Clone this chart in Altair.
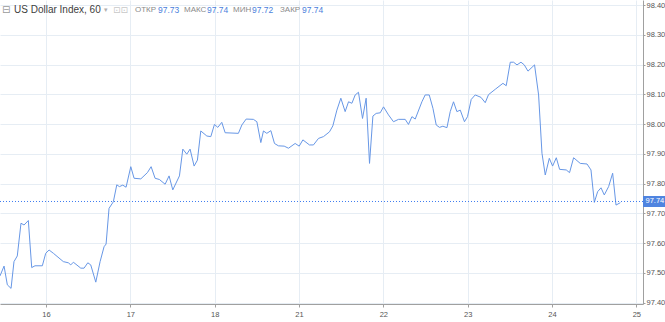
import altair as alt
import pandas as pd

# trading-day index (16 -> 0, 17 -> 1, 18 -> 2, 21 -> 3, 22 -> 4, 23 -> 5, 24 -> 6, 25 -> 7)
t = [-0.546, -0.498, -0.459, -0.415, -0.380, -0.341, -0.297, -0.261, -0.210, -0.170,
     -0.131, -0.044, -0.004, 0.036, 0.087, 0.205, 0.265, 0.293, 0.324, 0.412,
     0.451, 0.495, 0.530, 0.590, 0.641, 0.688, 0.712, 0.747, 0.798, 0.839,
     0.870, 0.910, 0.949, 1.005, 1.044, 1.124, 1.202, 1.246, 1.293, 1.344,
     1.412, 1.459, 1.503, 1.582, 1.622, 1.669, 1.708, 1.756, 1.795, 1.835,
     1.907, 1.954, 1.997, 2.037, 2.084, 2.124, 2.281, 2.322, 2.373, 2.459,
     2.500, 2.547, 2.578, 2.618, 2.666, 2.709, 2.756, 2.824, 2.875, 2.954,
     3.002, 3.046, 3.124, 3.171, 3.231, 3.290, 3.361, 3.401, 3.449, 3.496,
     3.547, 3.587, 3.627, 3.666, 3.705, 3.753, 3.796, 3.836, 3.876, 3.915,
     3.963, 4.002, 4.061, 4.120, 4.180, 4.259, 4.298, 4.339, 4.378, 4.457,
     4.496, 4.544, 4.588, 4.627, 4.666, 4.706, 4.754, 4.793, 4.832, 4.872,
     4.912, 4.962, 4.998, 5.042, 5.089, 5.157, 5.208, 5.247, 5.327, 5.418,
     5.457, 5.505, 5.544, 5.585, 5.632, 5.671, 5.715, 5.793, 5.841, 5.881,
     5.920, 5.968, 6.007, 6.051, 6.090, 6.169, 6.208, 6.256, 6.335, 6.415,
     6.462, 6.502, 6.541, 6.581, 6.620, 6.671, 6.719, 6.759, 6.810]

price = [97.490, 97.523, 97.460, 97.448, 97.538, 97.557, 97.667, 97.661, 97.676, 97.518,
         97.524, 97.524, 97.566, 97.577, 97.566, 97.538, 97.534, 97.527, 97.536, 97.516,
         97.516, 97.534, 97.527, 97.469, 97.538, 97.588, 97.597, 97.717, 97.739, 97.796,
         97.790, 97.795, 97.788, 97.857, 97.818, 97.816, 97.837, 97.857, 97.818, 97.814,
         97.798, 97.826, 97.779, 97.826, 97.916, 97.899, 97.916, 97.859, 97.879, 97.977,
         97.960, 97.958, 97.999, 97.989, 98.006, 97.971, 97.969, 97.997, 98.017, 98.016,
         98.008, 97.938, 97.977, 97.969, 97.978, 97.935, 97.927, 97.926, 97.919, 97.935,
         97.926, 97.947, 97.930, 97.930, 97.952, 97.958, 97.974, 97.994, 98.047, 98.087,
         98.042, 98.075, 98.070, 98.098, 98.107, 98.019, 98.087, 97.868, 98.027, 98.036,
         98.038, 98.058, 98.031, 98.008, 98.016, 98.016, 97.999, 98.025, 98.017, 98.075,
         98.098, 98.098, 98.053, 97.997, 97.989, 97.993, 97.988, 98.042, 98.075, 98.042,
         98.047, 98.008, 98.025, 98.083, 98.098, 98.090, 98.072, 98.099, 98.117, 98.137,
         98.129, 98.208, 98.208, 98.199, 98.208, 98.199, 98.178, 98.199, 98.098, 97.902,
         97.829, 97.885, 97.859, 97.887, 97.848, 97.846, 97.837, 97.887, 97.868, 97.866,
         97.846, 97.737, 97.773, 97.786, 97.762, 97.790, 97.835, 97.728, 97.736]

day_labels = ["16", "17", "18", "21", "22", "23", "24", "25"]
y_ticks = [97.40, 97.50, 97.60, 97.70, 97.80, 97.90, 98.00, 98.10, 98.20, 98.30, 98.40]
last_price = 97.74
last_label = "97.74"

title_text = "US Dollar Index, 60"
ohlc_labels = ["ОТКР", "МАКС", "МИН", "ЗАКР"]
ohlc_values = ["97.73", "97.74", "97.72", "97.74"]

LINE = "#6797e6"
TAG = "#4f84e0"
DOT = "#3f7df0"
GRID = "#e6edf4"
FONT = "Liberation Sans"

df = pd.DataFrame({"t": t, "price": price})

xscale = alt.Scale(domain=[-0.546, 7.079], nice=False, zero=False)
yscale = alt.Scale(domain=[97.3956, 98.417], nice=False, zero=False)

label_expr = "[" + ",".join("'%s'" % d for d in day_labels) + "][datum.value]"

x_axis = alt.Axis(values=list(range(len(day_labels))), labelExpr=label_expr,
                  grid=True, gridColor=GRID, domainColor="#a0a0a0",
                  tickColor="#a0a0a0", tickSize=3, labelFontSize=7.5,
                  labelColor="#555", labelFont=FONT, labelPadding=3,
                  labelOverlap=False)
y_axis = alt.Axis(orient="right", values=y_ticks, format=".2f",
                  grid=True, gridColor=GRID, domainColor="#a0a0a0",
                  tickColor="#a0a0a0", tickSize=2, labelFontSize=7.5,
                  labelColor="#555", labelFont=FONT, labelPadding=1,
                  labelAlign="left", labelOverlap=False, labelBound=False)

line = alt.Chart(df).mark_line(color=LINE, strokeWidth=1).encode(
    x=alt.X("t:Q", scale=xscale, title=None, axis=x_axis),
    y=alt.Y("price:Q", scale=yscale, title=None, axis=y_axis),
)

price_line = alt.Chart(pd.DataFrame({"price": [last_price]})).mark_rule(
    stroke=DOT, color=DOT, strokeWidth=1, strokeDash=[1, 2], strokeCap="butt", opacity=1
).encode(y=alt.Y("price:Q", scale=yscale, title=None, axis=y_axis),
         x=alt.value(0), x2=alt.value(643))

tag_df = pd.DataFrame({"price": [last_price], "lab": [last_label]})
tag_box = alt.Chart(tag_df).mark_rect(color=TAG, yOffset=-5.5, y2Offset=5.5).encode(
    x=alt.value(643), x2=alt.value(665),
    y=alt.Y("price:Q", scale=yscale, title=None, axis=y_axis), y2="price:Q")
tag_text = alt.Chart(tag_df).mark_text(
    color="white", fontSize=7.5, font=FONT, align="left", baseline="middle"
).encode(x=alt.value(645.5), y=alt.Y("price:Q", scale=yscale, title=None, axis=y_axis),
         text="lab:N")

# header
hdr = []
hdr.append(alt.Chart(pd.DataFrame({"s": ["⊟"]})).mark_text(
    font="DejaVu Sans", fontSize=10, color="#9a9a9a", align="left", baseline="middle"
).encode(x=alt.value(2), y=alt.value(10), text="s:N"))
hdr.append(alt.Chart(pd.DataFrame({"s": [title_text]})).mark_text(
    font=FONT, fontSize=10, color="#404040", align="left", baseline="middle"
).encode(x=alt.value(14), y=alt.value(10), text="s:N"))
hdr.append(alt.Chart(pd.DataFrame({"s": ["▾"]})).mark_text(
    font="DejaVu Sans", fontSize=7, color="#b0b0b0", align="left", baseline="middle"
).encode(x=alt.value(104), y=alt.value(10), text="s:N"))
hdr.append(alt.Chart(pd.DataFrame({"s": ["⊡⊡"]})).mark_text(
    font="DejaVu Sans", fontSize=9, color="#c8c8c8", align="left", baseline="middle"
).encode(x=alt.value(113), y=alt.value(10), text="s:N"))
lab_x = [135, 184, 233, 280]
val_x = [158, 207, 252, 302]
for lx, vx, lab, val in zip(lab_x, val_x, ohlc_labels, ohlc_values):
    hdr.append(alt.Chart(pd.DataFrame({"s": [lab]})).mark_text(
        font=FONT, fontSize=8, color="#8a8a8a", align="left", baseline="middle"
    ).encode(x=alt.value(lx), y=alt.value(10), text="s:N"))
    hdr.append(alt.Chart(pd.DataFrame({"s": [val]})).mark_text(
        font=FONT, fontSize=8.5, color="#4a7fdc", align="left", baseline="middle"
    ).encode(x=alt.value(vx), y=alt.value(10), text="s:N"))

chart = alt.layer(line, price_line, tag_box, tag_text, *hdr).properties(
    width=643, height=304,
    autosize=alt.AutoSizeParams(type="none"),
    padding={"left": 0, "top": 0, "right": 22, "bottom": 18},
    background="white",
).configure_view(stroke=None)

chart.save("out.html", embed_options={"renderer": "svg", "actions": False})
